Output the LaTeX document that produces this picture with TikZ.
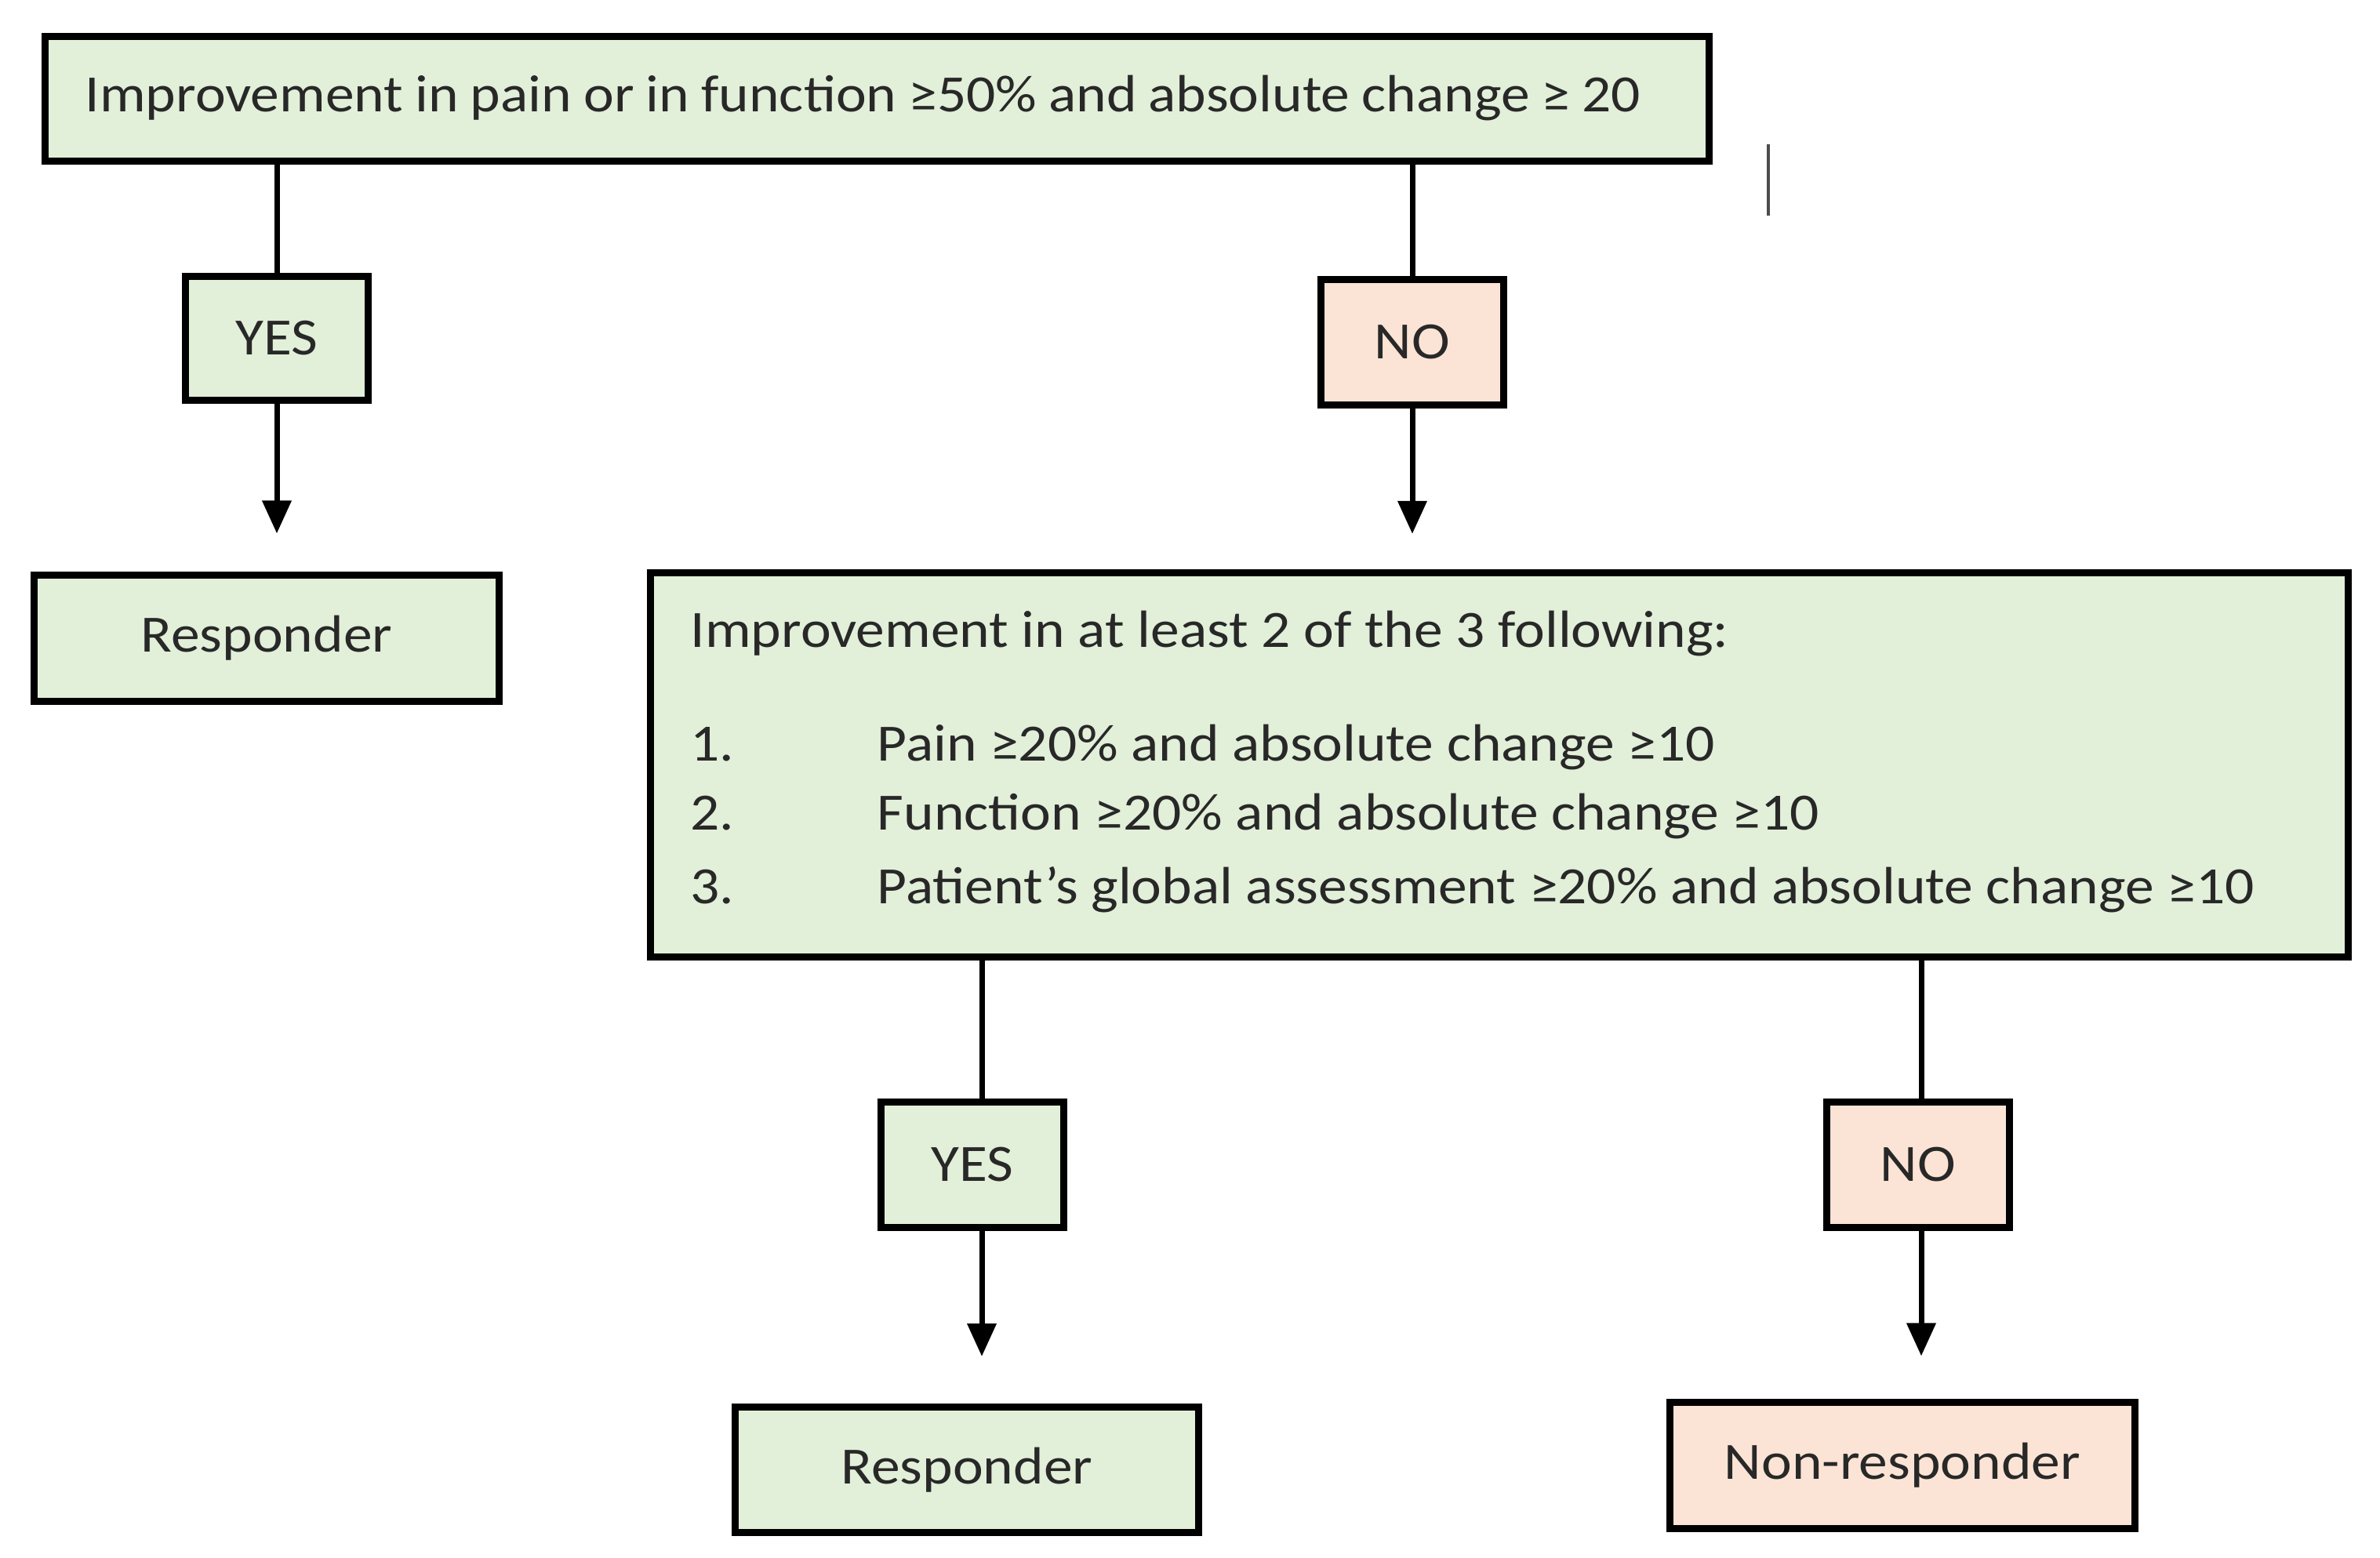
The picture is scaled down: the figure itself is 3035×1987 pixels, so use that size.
\documentclass[tikz,border=0pt]{standalone}
\usepackage{fontspec}
\setmainfont{Carlito}[FakeStretch=1.1]
\usetikzlibrary{arrows.meta}
\definecolor{gfill}{RGB}{226,239,217}
\definecolor{pfill}{RGB}{251,228,213}
\definecolor{ink}{RGB}{40,40,40}
\begin{document}
\begin{tikzpicture}[x=0.01cm,y=-0.01cm,
  box/.style={draw=black, line width=0.09cm, inner sep=0pt, font=\fontsize{19}{23}\selectfont, text=ink},
  gbox/.style={box, fill=gfill},
  pbox/.style={box, fill=pfill},
  conn/.style={line width=0.07cm, draw=black},
  arr/.style={conn, -{Triangle[width=0.36cm,length=0.42cm]}},
  txt/.style={inner sep=0pt, font=\fontsize{19}{23}\selectfont, text=ink, anchor=base west}]
\fill[white] (0,0) rectangle (3035,1987);
\useasboundingbox (0,0) rectangle (3035,1987);

\node[gbox, minimum width=21.2cm, minimum height=1.58cm] (top) at (1118.5,126) {};
\node[txt] (toptext) at (108,142)
  {\spaceskip=4.3pt\relax Improvement in pain or in function ≥50\% and absolute change ≥ 20};

\node[gbox, minimum width=2.33cm, minimum height=1.58cm] (yes1) at (353,431.5) {YES};
\node[gbox, minimum width=5.93cm, minimum height=1.6cm] (resp1) at (340,814) {Responder};
\node[pbox, minimum width=2.33cm, minimum height=1.6cm] (no1) at (1801,436.5) {NO};

\node[gbox, minimum width=21.63cm, minimum height=4.9cm] (big) at (1912,975.5) {};
\node[txt] (head) at (880,825) {Improvement in at least 2 of the 3 following:};
\node[txt] (n1) at (880,970) {1.};
\node[txt] (t1) at (1118,970) {Pain ≥20\% and absolute change ≥10};
\node[txt] (n2) at (880,1058) {2.};
\node[txt] (t2) at (1118,1058) {Function ≥20\% and absolute change ≥10};
\node[txt] (n3) at (880,1152) {3.};
\node[txt] (t3) at (1118,1152) {Patient’s global assessment ≥20\% and absolute change ≥10};

\node[gbox, minimum width=2.33cm, minimum height=1.6cm] (yes2) at (1240,1485.5) {YES};
\node[gbox, minimum width=5.91cm, minimum height=1.6cm] (resp2) at (1233,1874.5) {Responder};
\node[pbox, minimum width=2.33cm, minimum height=1.6cm] (no2) at (2446,1485.5) {NO};
\node[pbox, minimum width=5.93cm, minimum height=1.6cm] (nonresp) at (2426,1869) {Non-responder};

\coordinate (c1) at (1252,0);
\coordinate (c2) at (2450,0);

\draw[conn] (top.south -| yes1) -- (yes1.north);
\draw[arr, shorten >=0.49cm] (yes1.south) -- (yes1.south |- resp1.north);
\draw[conn] (top.south -| no1) -- (no1.north);
\draw[arr, shorten >=0.45cm] (no1.south) -- (no1.south |- big.north);
\draw[conn] (big.south -| c1) -- (yes2.north -| c1);
\draw[arr, shorten >=0.6cm] (yes2.south -| c1) -- (resp2.north -| c1);
\draw[conn] (big.south -| c2) -- (no2.north -| c2);
\draw[arr, shorten >=0.55cm] (no2.south -| c2) -- (nonresp.north -| c2);

\draw[line width=0.035cm, black!70] (2255,184) -- (2255,275);
\end{tikzpicture}
\end{document}
